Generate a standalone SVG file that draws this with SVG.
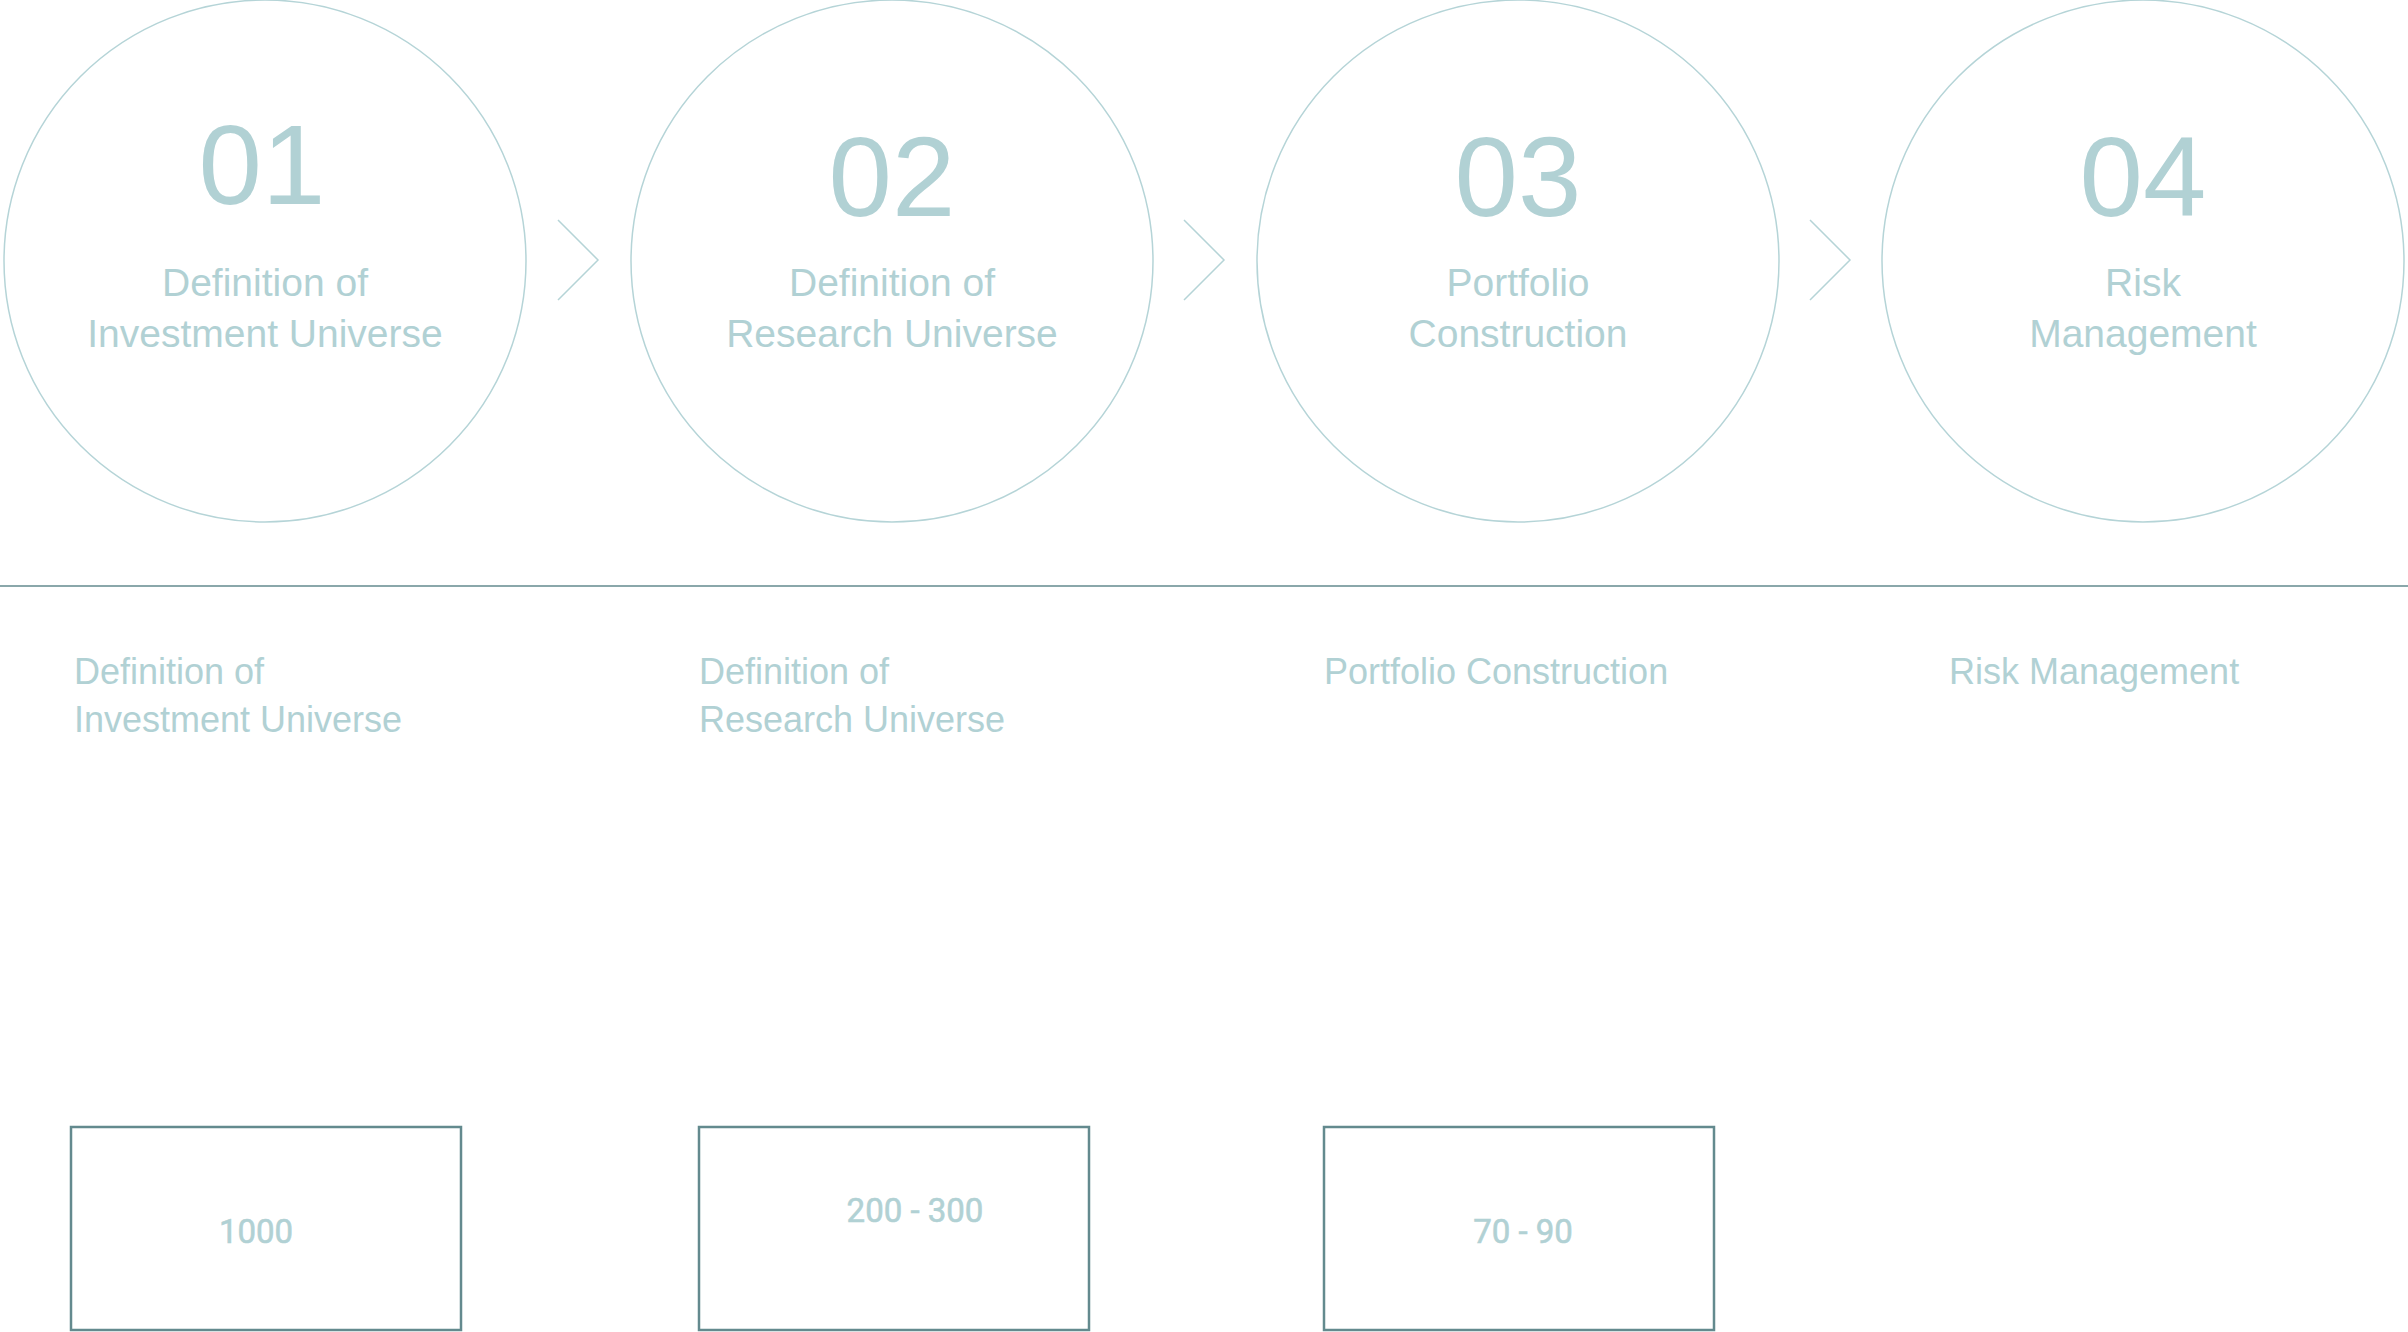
<svg xmlns="http://www.w3.org/2000/svg" width="2408" height="1332" viewBox="0 0 2408 1332">
<style>
.circ{fill:none;stroke:#b5d4d7;stroke-width:1.5}
.chev{fill:none;stroke:#b5d4d7;stroke-width:1.5}
.num{font-family:"Liberation Sans",Arial,sans-serif;font-size:114px;fill:#b1d1d4;text-anchor:middle}
.lbl{font-family:"Liberation Sans",Arial,sans-serif;font-size:39px;fill:#b1d1d4;text-anchor:middle}
.sub{font-family:"Liberation Sans",Arial,sans-serif;font-size:36px;fill:#b1d1d4}
.box{fill:none;stroke:#638a8e;stroke-width:2.5}
.val{font-family:Roboto,"Liberation Sans",sans-serif;font-weight:400;font-size:33px;fill:#b1d1d4;stroke:#b1d1d4;stroke-width:0.6;text-anchor:middle}
</style>
<rect width="2408" height="1332" fill="#ffffff"/>
<g id="step1">
<circle class="circ" cx="265" cy="261" r="261"/>
<text class="num" x="262" y="204">01</text>
<text class="lbl" x="265" y="296">Definition of</text>
<text class="lbl" x="265" y="347">Investment Universe</text>
</g>
<g id="step2">
<circle class="circ" cx="892" cy="261" r="261"/>
<text class="num" x="892" y="216">02</text>
<text class="lbl" x="892" y="296">Definition of</text>
<text class="lbl" x="892" y="347">Research Universe</text>
</g>
<g id="step3">
<circle class="circ" cx="1518" cy="261" r="261"/>
<text class="num" x="1518" y="216">03</text>
<text class="lbl" x="1518" y="296">Portfolio</text>
<text class="lbl" x="1518" y="347">Construction</text>
</g>
<g id="step4">
<circle class="circ" cx="2143" cy="261" r="261"/>
<text class="num" x="2143" y="216">04</text>
<text class="lbl" x="2143" y="296">Risk</text>
<text class="lbl" x="2143" y="347">Management</text>
</g>
<g id="connectors">
<polyline class="chev" points="558,220 598,260 558,300"/>
<polyline class="chev" points="1184,220 1224,260 1184,300"/>
<polyline class="chev" points="1810,220 1850,260 1810,300"/>
</g>
<line x1="0" y1="586" x2="2408" y2="586" stroke="#638a8e" stroke-width="1.5"/>
<g id="desc1">
<text class="sub" x="74" y="684">Definition of</text>
<text class="sub" x="74" y="732">Investment Universe</text>
</g>
<g id="desc2">
<text class="sub" x="699" y="684">Definition of</text>
<text class="sub" x="699" y="732">Research Universe</text>
</g>
<g id="desc3">
<text class="sub" x="1324" y="684">Portfolio Construction</text>
</g>
<g id="desc4">
<text class="sub" x="1949" y="684">Risk Management</text>
</g>
<g id="box1">
<rect class="box" x="71" y="1127" width="390" height="203"/>
<text class="val" x="256" y="1243">1000</text>
</g>
<g id="box2">
<rect class="box" x="699" y="1127" width="390" height="203"/>
<text class="val" x="915" y="1222">200 - 300</text>
</g>
<g id="box3">
<rect class="box" x="1324" y="1127" width="390" height="203"/>
<text class="val" x="1523" y="1243">70 - 90</text>
</g>
</svg>
